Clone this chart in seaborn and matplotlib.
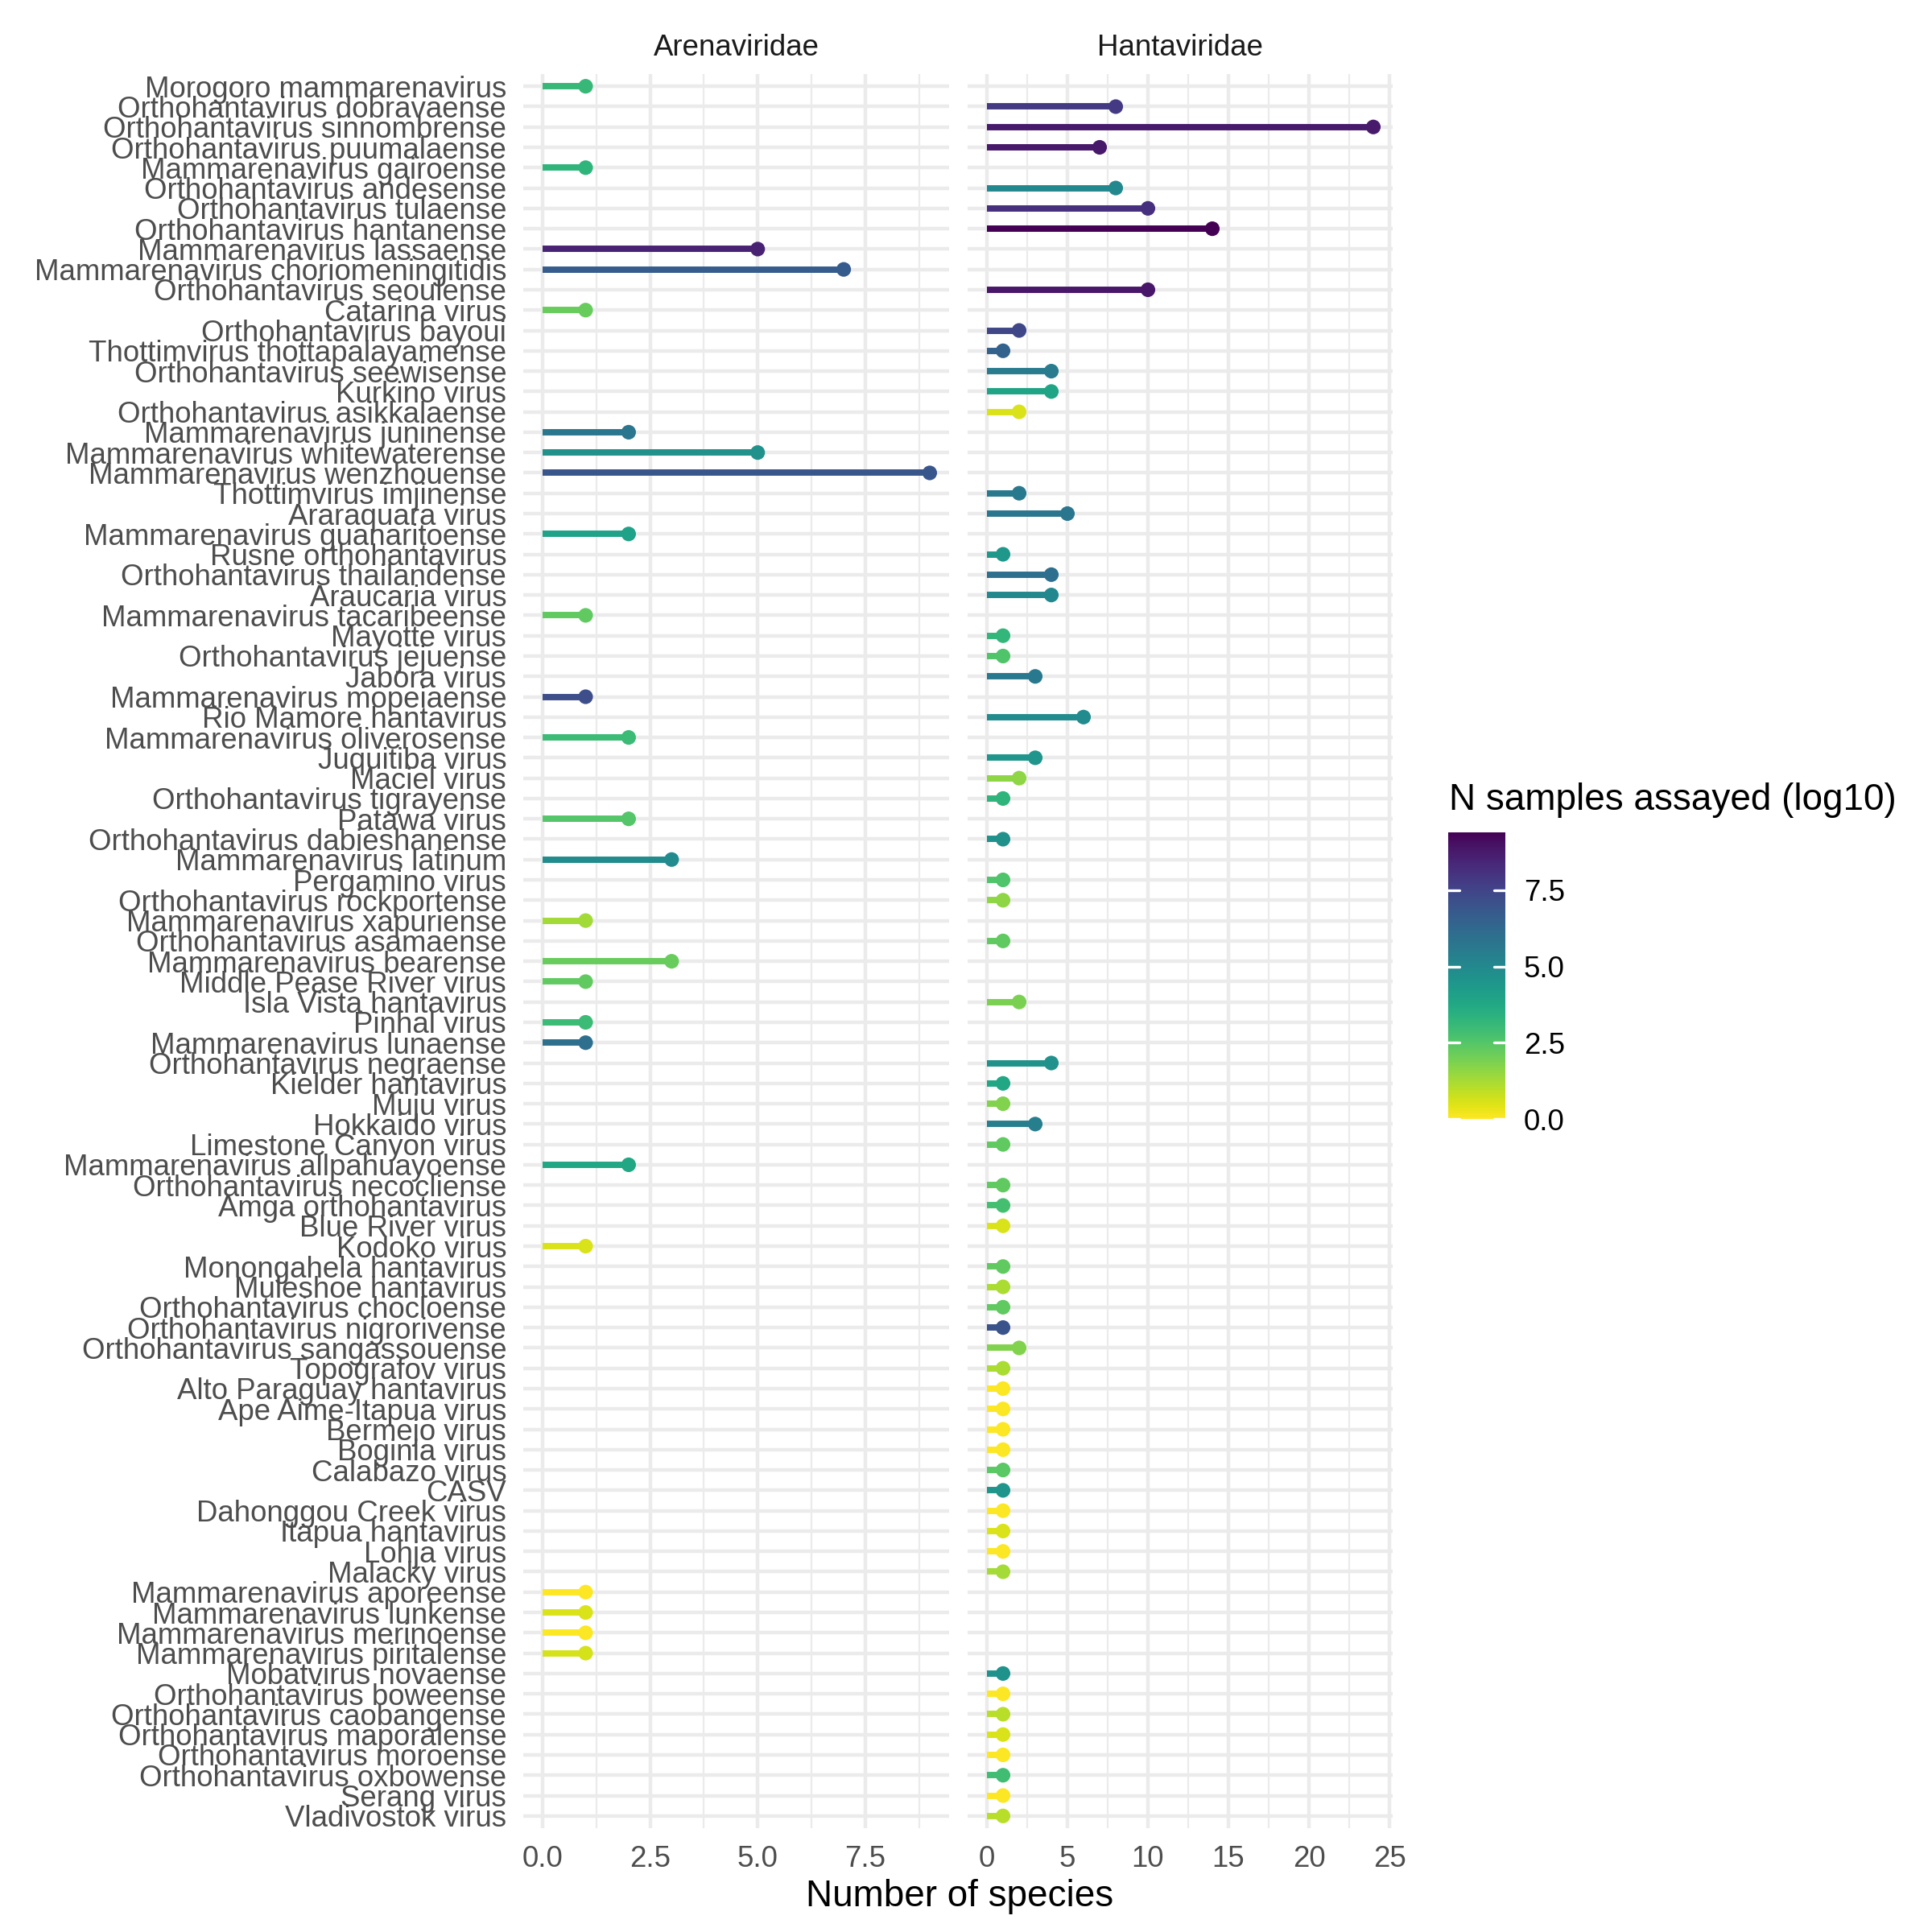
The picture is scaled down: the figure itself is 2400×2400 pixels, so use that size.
import numpy as np
import pandas as pd
import matplotlib
matplotlib.use('Agg')
import matplotlib.pyplot as plt
import seaborn as sns
from matplotlib import colors, cm, transforms

# row order, top to bottom
virus_order = [
    "Morogoro mammarenavirus", "Orthohantavirus dobravaense", "Orthohantavirus sinnombrense",
    "Orthohantavirus puumalaense", "Mammarenavirus gairoense", "Orthohantavirus andesense",
    "Orthohantavirus tulaense", "Orthohantavirus hantanense", "Mammarenavirus lassaense",
    "Mammarenavirus choriomeningitidis", "Orthohantavirus seoulense", "Catarina virus",
    "Orthohantavirus bayoui", "Thottimvirus thottapalayamense", "Orthohantavirus seewisense",
    "Kurkino virus", "Orthohantavirus asikkalaense", "Mammarenavirus juninense",
    "Mammarenavirus whitewaterense", "Mammarenavirus wenzhouense", "Thottimvirus imjinense",
    "Araraquara virus", "Mammarenavirus guanaritoense", "Rusne orthohantavirus",
    "Orthohantavirus thailandense", "Araucaria virus", "Mammarenavirus tacaribeense",
    "Mayotte virus", "Orthohantavirus jejuense", "Jabora virus", "Mammarenavirus mopeiaense",
    "Rio Mamore hantavirus", "Mammarenavirus oliverosense", "Juquitiba virus", "Maciel virus",
    "Orthohantavirus tigrayense", "Patawa virus", "Orthohantavirus dabieshanense",
    "Mammarenavirus latinum", "Pergamino virus", "Orthohantavirus rockportense",
    "Mammarenavirus xapuriense", "Orthohantavirus asamaense", "Mammarenavirus bearense",
    "Middle Pease River virus", "Isla Vista hantavirus", "Pinhal virus",
    "Mammarenavirus lunaense", "Orthohantavirus negraense", "Kielder hantavirus",
    "Muju virus", "Hokkaido virus", "Limestone Canyon virus", "Mammarenavirus allpahuayoense",
    "Orthohantavirus necocliense", "Amga orthohantavirus", "Blue River virus", "Kodoko virus",
    "Monongahela hantavirus", "Muleshoe hantavirus", "Orthohantavirus chocloense",
    "Orthohantavirus nigrorivense", "Orthohantavirus sangassouense", "Topografov virus",
    "Alto Paraguay hantavirus", "Ape Aime-Itapua virus", "Bermejo virus", "Boginia virus",
    "Calabazo virus", "CASV", "Dahonggou Creek virus", "Itapua hantavirus", "Lohja virus",
    "Malacky virus", "Mammarenavirus aporeense", "Mammarenavirus lunkense",
    "Mammarenavirus merinoense", "Mammarenavirus piritalense", "Mobatvirus novaense",
    "Orthohantavirus boweense", "Orthohantavirus caobangense", "Orthohantavirus maporalense",
    "Orthohantavirus moroense", "Orthohantavirus oxbowense", "Serang virus", "Vladivostok virus",
]

arena_viruses = [
    "Morogoro mammarenavirus", "Mammarenavirus gairoense", "Mammarenavirus lassaense",
    "Mammarenavirus choriomeningitidis", "Catarina virus", "Mammarenavirus juninense",
    "Mammarenavirus whitewaterense", "Mammarenavirus wenzhouense", "Mammarenavirus guanaritoense",
    "Mammarenavirus tacaribeense", "Mammarenavirus mopeiaense", "Mammarenavirus oliverosense",
    "Patawa virus", "Mammarenavirus latinum", "Mammarenavirus xapuriense",
    "Mammarenavirus bearense", "Middle Pease River virus", "Pinhal virus",
    "Mammarenavirus lunaense", "Mammarenavirus allpahuayoense", "Kodoko virus",
    "Mammarenavirus aporeense", "Mammarenavirus lunkense", "Mammarenavirus merinoense",
    "Mammarenavirus piritalense",
]
arena_species = [1, 1, 5, 7, 1, 2, 5, 9, 2, 1, 1, 2, 2, 3, 1, 3, 1, 1, 1, 2, 1, 1, 1, 1, 1]
arena_log_samples = [3.1, 3.3, 8.5, 6.7, 2.2, 5.7, 4.7, 6.9, 4.0, 2.3, 7.2, 3.0, 2.5,
                     4.9, 1.3, 2.2, 2.3, 3.0, 6.0, 3.8, 0.55, 0.0, 0.55, 0.05, 0.6]

hanta_viruses = [
    "Orthohantavirus dobravaense", "Orthohantavirus sinnombrense", "Orthohantavirus puumalaense",
    "Orthohantavirus andesense", "Orthohantavirus tulaense", "Orthohantavirus hantanense",
    "Orthohantavirus seoulense", "Orthohantavirus bayoui", "Thottimvirus thottapalayamense",
    "Orthohantavirus seewisense", "Kurkino virus", "Orthohantavirus asikkalaense",
    "Thottimvirus imjinense", "Araraquara virus", "Rusne orthohantavirus",
    "Orthohantavirus thailandense", "Araucaria virus", "Mayotte virus",
    "Orthohantavirus jejuense", "Jabora virus", "Rio Mamore hantavirus", "Juquitiba virus",
    "Maciel virus", "Orthohantavirus tigrayense", "Orthohantavirus dabieshanense",
    "Pergamino virus", "Orthohantavirus rockportense", "Orthohantavirus asamaense",
    "Isla Vista hantavirus", "Orthohantavirus negraense", "Kielder hantavirus", "Muju virus",
    "Hokkaido virus", "Limestone Canyon virus", "Orthohantavirus necocliense",
    "Amga orthohantavirus", "Blue River virus", "Monongahela hantavirus",
    "Muleshoe hantavirus", "Orthohantavirus chocloense", "Orthohantavirus nigrorivense",
    "Orthohantavirus sangassouense", "Topografov virus", "Alto Paraguay hantavirus",
    "Ape Aime-Itapua virus", "Bermejo virus", "Boginia virus", "Calabazo virus", "CASV",
    "Dahonggou Creek virus", "Itapua hantavirus", "Lohja virus", "Malacky virus",
    "Mobatvirus novaense", "Orthohantavirus boweense", "Orthohantavirus caobangense",
    "Orthohantavirus maporalense", "Orthohantavirus moroense", "Orthohantavirus oxbowense",
    "Serang virus", "Vladivostok virus",
]
hanta_species = [8, 24, 7, 8, 10, 14, 10, 2, 1, 4, 4, 2, 2, 5, 1, 4, 4, 1, 1, 3, 6, 3,
                 2, 1, 1, 1, 1, 1, 2, 4, 1, 1, 3, 1, 1, 1, 1, 1, 1, 1, 1, 2, 1, 1, 1,
                 1, 1, 1, 1, 1, 1, 1, 1, 1, 1, 1, 1, 1, 1, 1, 1]
hanta_log_samples = [7.8, 8.75, 8.8, 5.0, 8.1, 9.41, 8.85, 7.4, 6.5, 5.5, 3.9, 0.55,
                     5.6, 5.7, 4.4, 6.0, 5.0, 3.2, 2.6, 5.6, 4.9, 4.5, 1.6, 3.3, 4.7,
                     2.6, 1.6, 2.3, 1.9, 4.7, 3.8, 1.8, 5.4, 2.3, 2.3, 2.8, 0.55, 2.3,
                     1.2, 2.3, 7.0, 1.8, 1.2, 0.05, 0.05, 0.05, 0.05, 2.4, 4.5, 0.05,
                     0.55, 0.05, 1.25, 4.6, 0.05, 1.0, 0.55, 0.05, 2.9, 0.05, 1.0]

sns.set_style('white')
plt.rcParams['font.family'] = ['Liberation Sans', 'DejaVu Sans']

pos = {name: i for i, name in enumerate(virus_order)}
arena = pd.DataFrame({'virus': arena_viruses, 'species': arena_species, 'log_n': arena_log_samples})
hanta = pd.DataFrame({'virus': hanta_viruses, 'species': hanta_species, 'log_n': hanta_log_samples})
arena['y'] = arena['virus'].map(pos)
hanta['y'] = hanta['virus'].map(pos)

vmax = max(arena['log_n'].max(), hanta['log_n'].max())
norm = colors.Normalize(0, vmax)
cmap = plt.get_cmap('viridis_r')

W = 2400
fig = plt.figure(figsize=(8, 8), dpi=300)
bottom = 1 - 2271 / W
height = (2271 - 92) / W
ax_a = fig.add_axes([650 / W, bottom, 529 / W, height])
ax_h = fig.add_axes([1202 / W, bottom, 528 / W, height])

grid_col = '#EBEBEB'
txt_col = '#4D4D4D'


def draw_panel(ax, df, xlim, major, minor, ticklabels, title):
    ax.hlines(df['y'], 0, df['species'], colors=cmap(norm(df['log_n'])),
              linewidth=1.9, zorder=2)
    sns.scatterplot(data=df, x='species', y='y', hue='log_n', palette='viridis_r',
                    hue_norm=(0, vmax), s=19, linewidth=0, legend=False, ax=ax, zorder=3)
    ax.set_xlim(xlim)
    ax.set_ylim(len(virus_order) - 0.4, -0.6)
    ax.set_yticks(range(len(virus_order)))
    ax.set_xticks(major)
    ax.set_xticks(minor, minor=True)
    ax.set_xticklabels(ticklabels)
    ax.grid(axis='y', which='major', color=grid_col, linewidth=1.07)
    ax.grid(axis='x', which='major', color=grid_col, linewidth=1.07)
    ax.grid(axis='x', which='minor', color=grid_col, linewidth=0.53)
    ax.set_axisbelow(True)
    ax.set_xlabel('')
    ax.set_ylabel('')
    ax.tick_params(which='both', length=0, labelsize=8.8, labelcolor=txt_col, pad=5)
    for s in ax.spines.values():
        s.set_visible(False)
    x0, _, w, _ = ax.get_position().bounds
    fig.text(x0 + w / 2, 1 - 69 / W, title, ha='center', va='baseline',
             fontsize=8.8, color='#1A1A1A')


draw_panel(ax_a, arena, (-0.45, 9.45), [0, 2.5, 5, 7.5], [1.25, 3.75, 6.25, 8.75],
           ['0.0', '2.5', '5.0', '7.5'], 'Arenaviridae')
draw_panel(ax_h, hanta, (-1.2, 25.2), [0, 5, 10, 15, 20, 25],
           [2.5, 7.5, 12.5, 17.5, 22.5], ['0', '5', '10', '15', '20', '25'], 'Hantaviridae')
ax_a.set_yticklabels(virus_order)
ax_h.tick_params(axis='y', labelleft=False)

fig.text(1192 / W, 1 - 2368 / W, 'Number of species', ha='center', va='baseline',
         fontsize=11, color='black')

# colour bar legend
cax = fig.add_axes([1799 / W, 1 - 1390 / W, 71 / W, 356.5 / W])
sm = cm.ScalarMappable(norm=norm, cmap=cmap)
cb = fig.colorbar(sm, cax=cax)
cb.outline.set_visible(False)
cb_ticks = [0, 2.5, 5, 7.5]
cb.set_ticks(cb_ticks)
cb.set_ticklabels(['0.0', '2.5', '5.0', '7.5'])
cax.tick_params(length=0, pad=5.5, labelsize=8.8, labelcolor='black')
tr = transforms.blended_transform_factory(cax.transAxes, cax.transData)
for v in cb_ticks:
    cax.plot([0, 0.2], [v, v], color='white', lw=0.8, transform=tr)
    cax.plot([0.8, 1], [v, v], color='white', lw=0.8, transform=tr)
cax.set_ylim(0, vmax)
fig.text(1800 / W, 1 - 1006 / W, 'N samples assayed (log10)', ha='left', va='baseline',
         fontsize=11, color='black')

fig.savefig('out.png', dpi=300, facecolor='white')
